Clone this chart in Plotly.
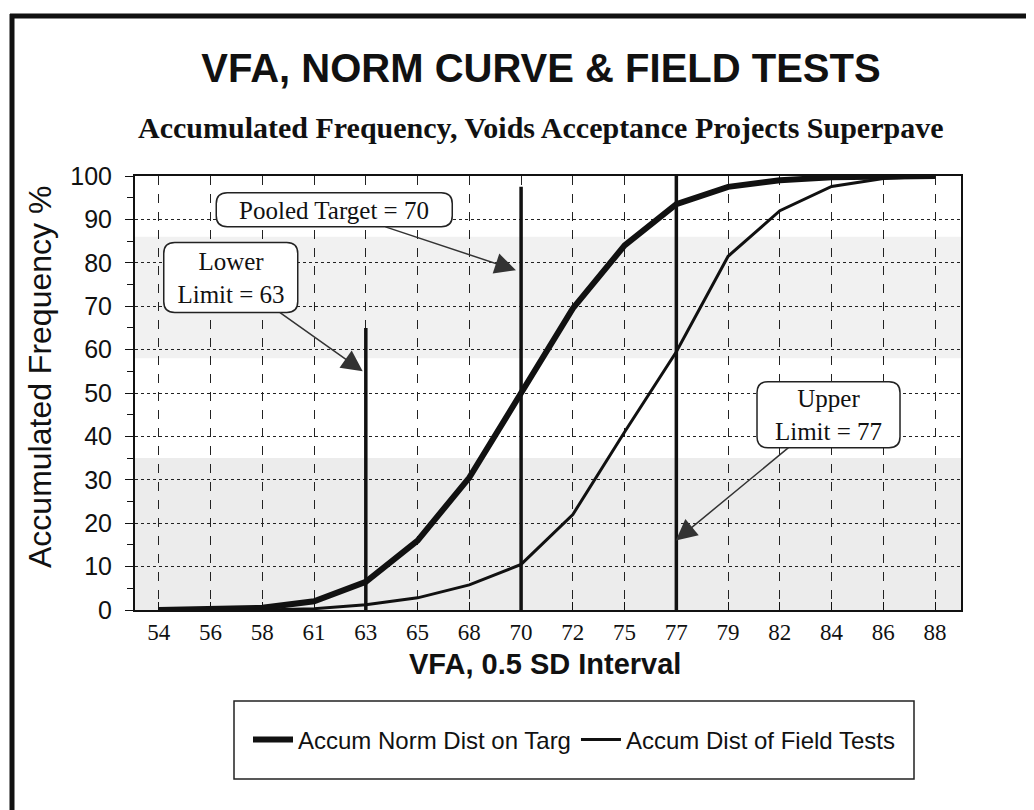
import plotly.graph_objects as go

# ── Data ──────────────────────────────────────────────────────────────────────

vfa_labels = ["54", "56", "58", "61", "63", "65", "68", "70",
              "72", "75", "77", "79", "82", "84", "86", "88"]
norm_accum = [0, 0.1, 0.5, 2, 6.5, 16, 30.5, 50,
              69.5, 84, 93.5, 97.5, 99, 99.7, 100, 100]
field_accum = [0, 0, 0, 0.3, 1.2, 2.8, 5.8, 10.5,
               22, 41, 59.5, 81.5, 92, 97.6, 99.4, 100]

limit_labels = ["63", "70", "77"]
limit_tops = [65, 97.5, 100]

note_texts = ["Pooled Target = 70", "Lower<br>Limit = 63", "Upper<br>Limit = 77"]
note_tip_x = [6.9, 3.94, 9.99]
note_tip_y = [78.3, 55, 16]
note_box_x = [3.39, 1.39, 12.94]
note_box_y = [92.2, 76.6, 45]
note_w = [236, 134, 143]
note_h = [34, 70, 66]

# ── Geometry helpers ──────────────────────────────────────────────────────────

W, H = 1034, 810
L, R, T, B = 127, 953, 168, 602
X_RANGE = [-0.46, 15.5]


def px(x):
    return (x - L) / (R - L)


def py(y):
    return (B - y) / (B - T)


def x_pix(i):
    return L + (i - X_RANGE[0]) / (X_RANGE[1] - X_RANGE[0]) * (R - L)


def y_pix(v):
    return B - v / 100 * (B - T)


def rounded_box(cx, cy, w, h, r=11):
    """Rounded rectangle path (paper coords) around a callout centre in pixels."""
    x0, x1 = cx - w / 2, cx + w / 2
    y0, y1 = cy - h / 2, cy + h / 2

    def p(x, y):
        return f"{px(x):.5f},{py(y):.5f}"

    return (f"M {p(x0 + r, y0)} L {p(x1 - r, y0)} Q {p(x1, y0)} {p(x1, y0 + r)} "
            f"L {p(x1, y1 - r)} Q {p(x1, y1)} {p(x1 - r, y1)} "
            f"L {p(x0 + r, y1)} Q {p(x0, y1)} {p(x0, y1 - r)} "
            f"L {p(x0, y0 + r)} Q {p(x0, y0)} {p(x0 + r, y0)} Z")


SANS = "Liberation Sans, Arial"
SERIF = "Liberation Serif, Times New Roman"

# ── Figure ────────────────────────────────────────────────────────────────────

fig = go.Figure()

fig.add_trace(go.Scatter(
    x=vfa_labels, y=norm_accum, mode="lines", name="Accum Norm Dist on Targ",
    line=dict(color="#111", width=6),
))
fig.add_trace(go.Scatter(
    x=vfa_labels, y=field_accum, mode="lines", name="Accum Dist of Field Tests",
    line=dict(color="#111", width=3),
))
for lab, top in zip(limit_labels, limit_tops):
    fig.add_trace(go.Scatter(
        x=[lab, lab], y=[0, top], mode="lines", showlegend=False,
        line=dict(color="#111", width=3.5), hoverinfo="skip",
    ))

shapes = [
    # faint halftone bands of the scanned background
    dict(type="rect", xref="paper", yref="y", x0=0, x1=1, y0=0, y1=35,
         fillcolor="#ececec", line_width=0, layer="below"),
    dict(type="rect", xref="paper", yref="y", x0=0, x1=1, y0=58, y1=86,
         fillcolor="#f1f1f1", line_width=0, layer="below"),
    # outer frame of the scanned page
    dict(type="line", xref="paper", yref="paper", x0=px(4), x1=px(4),
         y0=py(6), y1=py(H), line=dict(color="#111", width=5)),
    dict(type="line", xref="paper", yref="paper", x0=px(2), x1=px(W),
         y0=py(8), y1=py(8), line=dict(color="#111", width=5)),
    dict(type="line", xref="paper", yref="paper", x0=px(540), x1=px(W),
         y0=py(806), y1=py(806), line=dict(color="#bbb", width=2)),
    # legend box
    dict(type="rect", xref="paper", yref="paper", x0=px(226), x1=px(906),
         y0=py(693), y1=py(771), line=dict(color="#222", width=1.5),
         fillcolor="white"),
]

annotations = [
    dict(text="<b>Accumulated Frequency, Voids Acceptance Projects Superpave</b>",
         xref="paper", yref="paper", x=px(533), y=py(119), showarrow=False,
         xanchor="center", yanchor="middle",
         font=dict(family=SERIF, size=30, color="#111")),
    dict(text="Accumulated Frequency %", xref="paper", yref="paper",
         x=px(32), y=py(369), textangle=-90, showarrow=False,
         xanchor="center", yanchor="middle",
         font=dict(family=SANS, size=32, color="#111")),
    dict(text="<b>VFA, 0.5 SD Interval</b>", xref="paper", yref="paper",
         x=px(537), y=py(656), showarrow=False,
         xanchor="center", yanchor="middle",
         font=dict(family=SANS, size=29, color="#111")),
]

# callouts: rounded box drawn as a shape, text + arrow as an annotation
for txt, tx, ty, bx, by, w, h in zip(note_texts, note_tip_x, note_tip_y,
                                      note_box_x, note_box_y, note_w, note_h):
    shapes.append(dict(
        type="path", xref="paper", yref="paper",
        path=rounded_box(x_pix(bx), y_pix(by), w, h),
        fillcolor="white", line=dict(color="#222", width=1.5), layer="above",
    ))
    annotations.append(dict(
        text=txt, x=tx, y=ty, xref="x", yref="y", ax=bx, ay=by,
        axref="x", ayref="y", showarrow=True, arrowhead=2, arrowsize=2.8,
        arrowwidth=1.5, arrowcolor="#333", width=w - 2, height=h - 2,
        borderwidth=0, bgcolor="rgba(0,0,0,0)",
        font=dict(family=SERIF, size=25, color="#111"),
    ))

fig.update_layout(
    width=W, height=H,
    margin=dict(l=L, r=W - R, t=T, b=H - B),
    paper_bgcolor="white", plot_bgcolor="white",
    title=dict(text="<b>VFA, NORM CURVE & FIELD TESTS</b>", xref="container",
               yref="container", x=533 / W, y=1 - 60 / H, xanchor="center",
               yanchor="middle", font=dict(family=SANS, size=40, color="#111")),
    xaxis=dict(
        type="category", range=X_RANGE,
        showgrid=True, gridcolor="#222", gridwidth=1, griddash="dash",
        showline=True, linecolor="#111", linewidth=2, mirror=True,
        ticks="inside", ticklen=8, tickcolor="#111",
        tickfont=dict(family=SERIF, size=23, color="#111"),
        ticklabelstandoff=0,
    ),
    yaxis=dict(
        range=[0, 100], dtick=10,
        showgrid=True, gridcolor="#222", gridwidth=1, griddash="dot",
        showline=True, linecolor="#111", linewidth=2, mirror=True,
        ticks="outside", ticklen=8, tickcolor="#111",
        minor=dict(dtick=5, ticks="outside", ticklen=6, tickcolor="#111"),
        tickfont=dict(family=SANS, size=25, color="#111"),
        ticklabelstandoff=8,
    ),
    legend=dict(orientation="h", x=px(566), y=py(732), xanchor="center",
                yanchor="middle", bgcolor="rgba(0,0,0,0)", itemwidth=40,
                font=dict(family=SANS, size=24, color="#111")),
    shapes=shapes,
    annotations=annotations,
)

fig.write_html("out.html")
